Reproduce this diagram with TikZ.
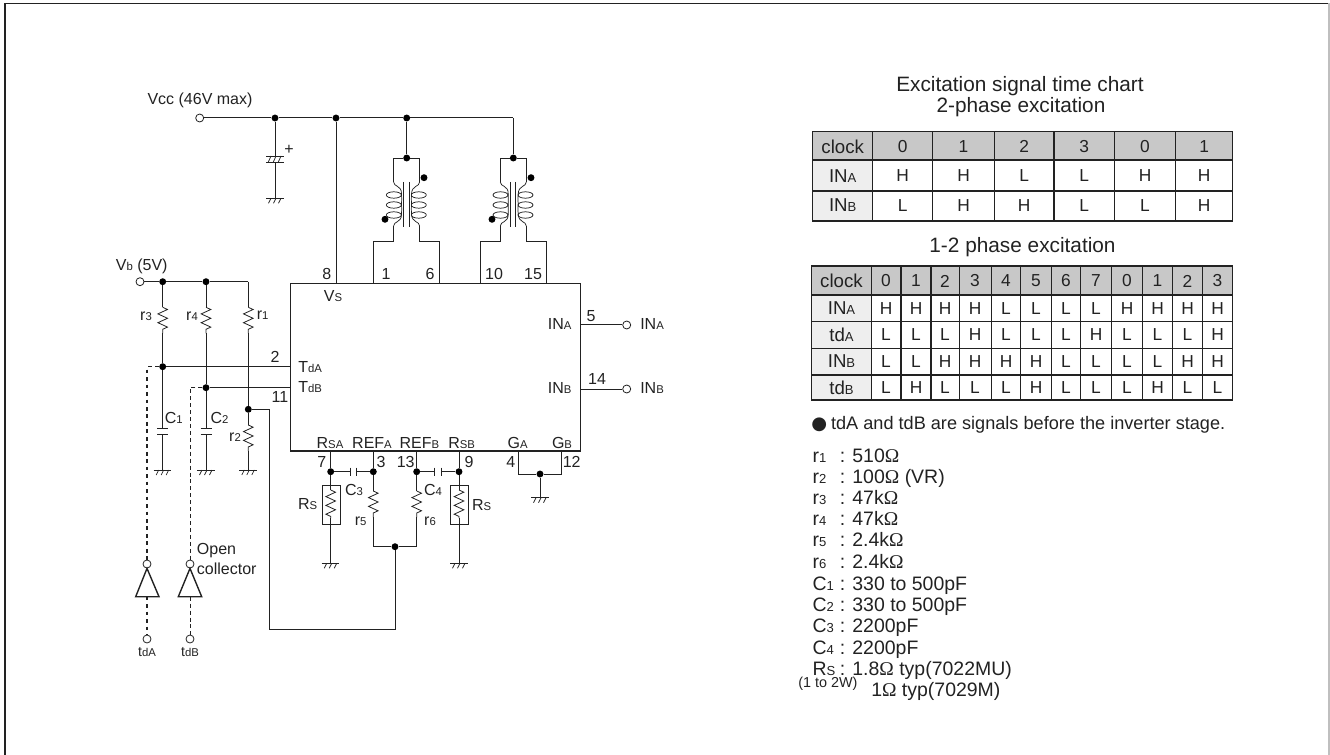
\documentclass[tikz,border=0pt]{standalone}
\usepackage{fontspec}
\setmainfont{Liberation Sans}
\newfontfamily\serifom{Liberation Serif}
\newfontfamily\symdot{DejaVu Sans}
\usetikzlibrary{decorations.pathmorphing}

\definecolor{headgray}{HTML}{C8C8C8}
\definecolor{sidegray}{HTML}{EEEEEE}
\definecolor{inkgray}{HTML}{222222}

\newcommand{\sm}[1]{{\fontsize{8.5}{9}\selectfont #1}}
\newcommand{\smb}[1]{{\fontsize{9.8}{10}\selectfont #1}}
\newcommand{\ohm}{{\serifom Ω}}

\tikzstyle{wire} = [draw=inkgray, line width=.75pt]
\tikzstyle{weak} = [draw=inkgray, line width=.55pt]
\tikzstyle{heavy} = [draw=inkgray, line width=1.05pt]
\tikzstyle{dashA} = [draw=inkgray, line width=.85pt, dash pattern=on 2.8pt off 2.8pt]
\tikzstyle{dashB} = [draw=inkgray, line width=.5pt, dash pattern=on 3pt off 2.2pt]
\tikzstyle{res} = [draw=inkgray, line width=.6pt, decorate,
    decoration={zigzag, segment length=6.6pt, amplitude=3.6pt}]
\tikzstyle{dot} = [circle, fill=black, inner sep=0pt, minimum size=5.2pt]
\tikzstyle{term} = [circle, draw=inkgray, fill=white, line width=.6pt, inner sep=0pt, minimum size=6pt]
\tikzstyle{lab} = [inner sep=0pt, text=inkgray, font=\fontsize{12}{14}\selectfont]
\tikzstyle{cell} = [inner sep=0pt, text=inkgray, font=\fontsize{13}{15}\selectfont]
\tikzstyle{hcell} = [inner sep=0pt, text=inkgray, font=\fontsize{14}{16}\selectfont]
\tikzstyle{big} = [inner sep=0pt, text=inkgray, font=\fontsize{15.6}{18}\selectfont]
\tikzstyle{val} = [inner sep=0pt, anchor=base west, text=inkgray, font=\fontsize{14.6}{17}\selectfont]

\tikzset{
  gndsym/.pic={
    \draw[weak] (-9,0) -- (8.5,0);
    \draw[weak] (-4,0) -- (-6.5,5);
    \draw[weak] (1,0) -- (-1.5,5);
    \draw[weak] (6,0) -- (3.5,5);
  },
  capv/.pic={
    \draw[wire] (-5.5,-3) -- (5.5,-3);
    \draw[wire] (-5.5,3) -- (5.5,3);
  },
  caph/.pic={
    \draw[wire] (-3.3,-4.2) -- (-3.3,4.2);
    \draw[wire] (3.3,-4.2) -- (3.3,4.2);
  },
  coilsym/.pic={
    % left and right windings, core between
    \draw[weak] (-12.7,0) .. controls (-12.7,5) and (-4.5,3) .. (-4.8,12)
       .. controls (-4.6,15) and (-4.6,19) .. (-4.8,22)
       .. controls (-4.6,25) and (-4.6,29) .. (-4.8,32)
       .. controls (-4.5,41) and (-12.7,39) .. (-12.7,44);
    \draw[weak] (13.3,0) .. controls (13.3,5) and (5.5,3) .. (5.2,12)
       .. controls (5,15) and (5,19) .. (5.2,22)
       .. controls (5,25) and (5,29) .. (5.2,32)
       .. controls (5.5,41) and (13.3,39) .. (13.3,44);
    \foreach \yy in {13,23,33} {
      \draw[weak] (-12.5,\yy) ellipse [x radius=7.5, y radius=3.2];
      \draw[weak] (12.5,\yy) ellipse [x radius=7.5, y radius=3.2];
    }
    \draw[weak] (-2.8,0) -- (-2.8,45.5);
    \draw[weak] (2.8,0) -- (2.8,45.5);
  }
}

\begin{document}
\begin{tikzpicture}[x=.75pt, y=-.75pt]
	\useasboundingbox (0,0) rectangle (1330,755);
	% frame
	\draw[draw=inkgray, line width=.9pt] (1330,3.5) -- (5,3.5) -- (5,755);
	\draw[draw=black!25, line width=.9pt] (1329,3.5) -- (1329,755);
	%
	% supply rail
	\node [term] (vcc) at (199.7,118) {};
	\node [dot] (ja) at (275,118) {};
	\node [dot] (jb) at (336,118) {};
	\node [dot] (jc) at (406.7,118) {};
	\coordinate (rcorner) at (513.3,118);
	\draw[wire] (vcc) -- (ja) -- (jb) -- (jc) -- (rcorner);
	%
	\node [lab] (lvcc) at (200,100) {Vcc (46V max)};
	%
	% electrolytic
	\coordinate (cpa) at (275,156);
	\coordinate (cpb) at (275,162.7);
	\coordinate (ga) at (275,198.3);
	\draw[wire] (ja) -- (cpa);
	\draw[wire] (cpb) -- (ga);
	\draw[weak] (266,156) -- (283.5,156);
	\draw[weak] (266,162.7) -- (283.5,162.7);
	\draw[weak] (268,162.7) -- (271,156) (273,162.7) -- (276,156) (278,162.7) -- (281,156);
	\node [lab] (lplus) at (289,150) {+};
	\pic at (ga) {gndsym};
	%
	% coil 1
	\node [dot] (jd) at (406.7,158) {};
	\coordinate (cla) at (393.3,158);
	\coordinate (clb) at (393.3,182);
	\coordinate (cra) at (419.3,158);
	\coordinate (crb) at (419.3,182);
	\coordinate (clc) at (393.3,226);
	\coordinate (cld) at (393.3,241);
	\coordinate (crc) at (419.3,226);
	\coordinate (crd) at (419.3,241);
	\coordinate (p1a) at (373.3,241);
	\coordinate (p6a) at (439.3,241);
	\coordinate (p1) at (373.3,283.3);
	\coordinate (p6) at (439.3,283.3);
	\draw[wire] (jc) -- (jd);
	\draw[weak] (clb) -- (cla) -- (jd) -- (cra) -- (crb);
	\draw[weak] (clc) -- (cld) -- (p1a) -- (p1);
	\draw[weak] (crc) -- (crd) -- (p6a) -- (p6);
	\pic at (406.3,182) {coilsym};
	\node [dot] (dotaa) at (424,177.7) {};
	\node [dot] (dotab) at (385,219.3) {};
	%
	% coil 2
	\node [dot] (je) at (513.3,158) {};
	\coordinate (dla) at (500,158);
	\coordinate (dlb) at (500,182);
	\coordinate (dra) at (526,158);
	\coordinate (drb) at (526,182);
	\coordinate (dlc) at (500,226);
	\coordinate (dld) at (500,241);
	\coordinate (drc) at (526,226);
	\coordinate (drd) at (526,241);
	\coordinate (p10a) at (480.3,241);
	\coordinate (p15a) at (546,241);
	\coordinate (p10) at (480.3,283.3);
	\coordinate (p15) at (546,283.3);
	\draw[wire] (rcorner) -- (je);
	\draw[weak] (dlb) -- (dla) -- (je) -- (dra) -- (drb);
	\draw[weak] (dlc) -- (dld) -- (p10a) -- (p10);
	\draw[weak] (drc) -- (drd) -- (p15a) -- (p15);
	\pic at (513,182) {coilsym};
	\node [dot] (dotba) at (531,177.7) {};
	\node [dot] (dotbb) at (492,219.3) {};
	%
	% IC body
	\node [draw=inkgray, line width=1.05pt, minimum width=217.5pt, minimum height=125.5pt, inner sep=0pt] (ic) at (435.5,367.2) {};
	\coordinate (p8) at (336,283.3);
	\draw[wire] (jb) -- (p8);
	%
	\node [lab] (n8) at (326.7,274.3) {8};
	\node [lab] (n1) at (386,274.3) {1};
	\node [lab] (n6) at (430,274.3) {6};
	\node [lab] (n10) at (494,274.3) {10};
	\node [lab] (n15) at (533,274.3) {15};
	\node [lab] (lvs) at (333,296) {V\sm{S}};
	\node [lab, anchor=west] (ltda) at (298,367) {T\sm{dA}};
	\node [lab, anchor=west] (ltdb) at (298,387) {T\sm{dB}};
	\node [lab] (n2) at (275,356.7) {2};
	\node [lab] (n11) at (280,396.7) {11};
	\node [lab] (lrsa) at (330,442.7) {R\sm{SA}};
	\node [lab] (lrefa) at (372,442.7) {REF\sm{A}};
	\node [lab] (lrefb) at (419.3,442.7) {REF\sm{B}};
	\node [lab] (lrsb) at (461.7,442.7) {R\sm{SB}};
	\node [lab] (lga) at (517.7,442.7) {G\sm{A}};
	\node [lab] (lgb) at (562,442.7) {G\sm{B}};
	\node [lab] (n7) at (321.7,462.3) {7};
	\node [lab] (n3) at (381,462.3) {3};
	\node [lab] (n13) at (405.7,462.3) {13};
	\node [lab] (n9) at (469,462.3) {9};
	\node [lab] (n4) at (510.7,462.3) {4};
	\node [lab] (n12) at (571.7,462.3) {12};
	%
	% inputs
	\node [term] (tina) at (626.7,325) {};
	\node [term] (tinb) at (626.7,389) {};
	\coordinate (p5) at (581,325);
	\coordinate (p14) at (581,389);
	\draw[wire] (p5) -- (tina);
	\draw[wire] (p14) -- (tinb);
	\node [lab] (n5) at (591,315.7) {5};
	\node [lab] (n14) at (597,379) {14};
	\node [lab, anchor=east] (lina) at (571.7,323.5) {IN\sm{A}};
	\node [lab, anchor=east] (linb) at (571.7,387.5) {IN\sm{B}};
	\node [lab, anchor=west] (ltina) at (640,323.5) {IN\sm{A}};
	\node [lab, anchor=west] (ltinb) at (640,387.5) {IN\sm{B}};
	%
	% Vb branch
	\node [term] (vb) at (140,281.7) {};
	\node [dot] (jf) at (162.7,281.7) {};
	\node [dot] (jg) at (206,281.7) {};
	\coordinate (vcorner) at (248.3,281.7);
	\draw[wire] (vb) -- (jf) -- (jg) -- (vcorner);
	\node [lab] (lvb) at (141.7,266.7) {V\sm{b} (5V)};
	%
	\coordinate (r3a) at (162.7,307.3);
	\coordinate (r3b) at (162.7,333.3);
	\coordinate (r4a) at (206,307.3);
	\coordinate (r4b) at (206,333.3);
	\coordinate (r1a) at (248.3,307.3);
	\coordinate (r1b) at (248.3,333.3);
	\coordinate (r2a) at (248.3,425);
	\coordinate (r2b) at (248.3,451);
	\node [dot] (jh) at (162.7,366.7) {};
	\node [dot] (ji) at (206,387.7) {};
	\node [dot] (jj) at (248.3,409.3) {};
	\coordinate (c1a) at (162.7,428.3);
	\coordinate (c1b) at (162.7,434.3);
	\coordinate (c2a) at (206,428.3);
	\coordinate (c2b) at (206,434.3);
	\coordinate (gb) at (162.7,470);
	\coordinate (gc) at (206,470);
	\coordinate (gd) at (248.3,470);
	\coordinate (p2) at (290,366.7);
	\coordinate (p11) at (290,387.7);
	%
	\draw[wire] (jf) -- (r3a);
	\draw[res] (r3a) -- (r3b);
	\draw[wire] (r3b) -- (jh) -- (c1a);
	\draw[wire] (c1b) -- (gb);
	\draw[wire] (jg) -- (r4a);
	\draw[res] (r4a) -- (r4b);
	\draw[wire] (r4b) -- (ji) -- (c2a);
	\draw[wire] (c2b) -- (gc);
	\draw[wire] (vcorner) -- (r1a);
	\draw[res] (r1a) -- (r1b);
	\draw[wire] (r1b) -- (jj) -- (r2a);
	\draw[res] (r2a) -- (r2b);
	\draw[wire] (r2b) -- (gd);
	\draw[wire] (jh) -- (p2);
	\draw[wire] (ji) -- (p11);
	\pic at (162.7,431.3) {capv};
	\pic at (206,431.3) {capv};
	\pic at (gb) {gndsym};
	\pic at (gc) {gndsym};
	\pic at (gd) {gndsym};
	%
	\node [lab] (lr3) at (146,316) {r\sm{3}};
	\node [lab] (lr4) at (192,316) {r\sm{4}};
	\node [lab] (lr1) at (262.7,315) {r\sm{1}};
	\node [lab] (lr2) at (235,437) {r\sm{2}};
	\node [lab] (lc1) at (173.7,417.7) {C\sm{1}};
	\node [lab] (lc2) at (219.5,417.7) {C\sm{2}};
	%
	% inverters
	\node [term] (ina) at (147,564) {};
	\node [term] (inb) at (190,564) {};
	\node [term] (tda) at (147,639) {};
	\node [term] (tdb) at (190,639) {};
	\coordinate (ua) at (147,366.7);
	\coordinate (ub) at (190,387.7);
	\coordinate (ta) at (147,596.7);
	\coordinate (tb) at (190,596.7);
	\draw[dashA] (jh) -- (ua) -- (ina);
	\draw[dashB] (ji) -- (ub) -- (inb);
	\draw[dashA] (ta) -- (tda);
	\draw[dashB] (tb) -- (tdb);
	\draw[heavy] (ina.south) -- (135.7,596.7) -- (159,596.7) -- cycle;
	\draw[heavy] (inb.south) -- (178.3,596.7) -- (201.7,596.7) -- cycle;
	\node [lab] (ltda2) at (147,652) {\fontsize{10.5}{11}\selectfont t\sm{dA}};
	\node [lab] (ltdb2) at (190,652) {\fontsize{10.5}{11}\selectfont t\sm{dB}};
	\node [lab, anchor=west] (lopen) at (196.7,551) {Open};
	\node [lab, anchor=west] (lcoll) at (196.7,569) {collector};
	%
	% current sense
	\node [dot] (jk) at (330.7,471.7) {};
	\node [dot] (jl) at (373.3,471.7) {};
	\node [dot] (jm) at (416.7,471.7) {};
	\node [dot] (jn) at (459,471.7) {};
	\coordinate (p7) at (330.7,451);
	\coordinate (p3) at (373.3,451);
	\coordinate (p13) at (416.7,451);
	\coordinate (p9) at (459,451);
	\coordinate (c3a) at (350,471.7);
	\coordinate (c3b) at (356.6,471.7);
	\coordinate (c4a) at (434.6,471.7);
	\coordinate (c4b) at (441.2,471.7);
	\coordinate (rsaa) at (330.7,490);
	\coordinate (rsab) at (330.7,518);
	\coordinate (rsba) at (459,490);
	\coordinate (rsbb) at (459,518);
	\coordinate (r5a) at (373.3,491);
	\coordinate (r5b) at (373.3,517.3);
	\coordinate (r6a) at (416.7,491);
	\coordinate (r6b) at (416.7,517.3);
	\coordinate (r5c) at (373.3,546.7);
	\coordinate (r6c) at (416.7,546.7);
	\coordinate (ge) at (330.7,563.3);
	\coordinate (gf) at (459,563.3);
	\node [dot] (jo) at (395,546.7) {};
	%
	\draw[wire] (p7) -- (jk);
	\draw[wire] (p3) -- (jl);
	\draw[wire] (p13) -- (jm);
	\draw[wire] (p9) -- (jn);
	\draw[wire] (jk) -- (c3a);
	\draw[wire] (c3b) -- (jl);
	\draw[wire] (jm) -- (c4a);
	\draw[wire] (c4b) -- (jn);
	\pic at (353.3,471.7) {caph};
	\pic at (437.9,471.7) {caph};
	\draw[wire] (jk) -- (rsaa);
	\draw[res] (rsaa) -- (rsab);
	\draw[wire] (rsab) -- (ge);
	\draw[wire] (jn) -- (rsba);
	\draw[res] (rsba) -- (rsbb);
	\draw[wire] (rsbb) -- (gf);
	\draw[wire] (jl) -- (r5a);
	\draw[res] (r5a) -- (r5b);
	\draw[wire] (r5b) -- (r5c) -- (jo);
	\draw[wire] (jm) -- (r6a);
	\draw[res] (r6a) -- (r6b);
	\draw[wire] (r6b) -- (r6c) -- (jo);
	\draw[wire] (322,485.7) rectangle (340.7,524.3);
	\draw[wire] (450,485.7) rectangle (468.3,524.3);
	\pic at (ge) {gndsym};
	\pic at (gf) {gndsym};
	%
	\node [lab] (lrsl) at (307.7,504.3) {R\sm{S}};
	\node [lab] (lrsr) at (481.7,505) {R\sm{S}};
	\node [lab] (lc3) at (354,490) {C\sm{3}};
	\node [lab] (lc4) at (433,490) {C\sm{4}};
	\node [lab] (lr5) at (360.7,521) {r\sm{5}};
	\node [lab] (lr6) at (430,521) {r\sm{6}};
	%
	% reference feed
	\coordinate (fa) at (269.7,409.3);
	\coordinate (fb) at (269.7,629.7);
	\coordinate (fc) at (395,629.7);
	\draw[wire] (jj) -- (fa) -- (fb) -- (fc) -- (jo);
	%
	% grounds of the bridge
	\coordinate (p4) at (518.3,451);
	\coordinate (p12) at (561,451);
	\coordinate (p4a) at (518.3,474);
	\coordinate (p12a) at (561,474);
	\node [dot] (jp) at (540,474) {};
	\coordinate (gg) at (540,497.7);
	\draw[wire] (p4) -- (p4a) -- (jp) -- (p12a) -- (p12);
	\draw[wire] (jp) -- (gg);
	\pic at (gg) {gndsym};
	%
	% first chart
	\node [big] (tita) at (1020,86) {Excitation signal time chart};
	\node [big] (titb) at (1021,107.5) {2-phase excitation};
	\fill[headgray] (812.7,131.7) rectangle (1232.7,160);
	\fill[sidegray] (812.7,160) rectangle (872.7,221);
	\draw[heavy] (812.7,131.7) rectangle (1232.7,221);
	\draw[heavy] (812.7,160) -- (1232.7,160);
	\draw[heavy] (812.7,191) -- (1232.7,191);
	\foreach \xx in {872.7,932.7,994.3,1054,1114.3,1175.7}
		\draw[heavy] (\xx,131.7) -- (\xx,221);
	%
	\node [hcell] (ah) at (842.7,146.5) {clock};
	\node [cell] (ah0) at (902.7,146.5) {0};
	\node [cell] (ah1) at (963.5,146.5) {1};
	\node [cell] (ah2) at (1024.2,146.5) {2};
	\node [cell] (ah3) at (1084.2,146.5) {3};
	\node [cell] (ah4) at (1145,146.5) {0};
	\node [cell] (ah5) at (1204.2,146.5) {1};
	\node [hcell] (aa) at (842.7,176) {IN\smb{A}};
	\node [cell] (aa0) at (902.7,176) {H};
	\node [cell] (aa1) at (963.5,176) {H};
	\node [cell] (aa2) at (1024.2,176) {L};
	\node [cell] (aa3) at (1084.2,176) {L};
	\node [cell] (aa4) at (1145,176) {H};
	\node [cell] (aa5) at (1204.2,176) {H};
	\node [hcell] (ab) at (842.7,205.5) {IN\smb{B}};
	\node [cell] (ab0) at (902.7,205.5) {L};
	\node [cell] (ab1) at (963.5,205.5) {H};
	\node [cell] (ab2) at (1024.2,205.5) {H};
	\node [cell] (ab3) at (1084.2,205.5) {L};
	\node [cell] (ab4) at (1145,205.5) {L};
	\node [cell] (ab5) at (1204.2,205.5) {H};
	%
	% second chart
	\node [big] (titc) at (1022.5,246.7) {1-2 phase excitation};
	\fill[headgray] (811.7,266) rectangle (1232.7,295);
	\fill[sidegray] (811.7,295) rectangle (871.3,400);
	\draw[heavy] (811.7,266) rectangle (1232.7,400);
	\foreach \yy in {295,321.7,348.3,375}
		\draw[heavy] (811.7,\yy) -- (1232.7,\yy);
	\foreach \xx in {871.3,901,931,959.3,991.3,1020.7,1051.7,1080.7,1111.7,1142.3,1172.7,1202.3}
		\draw[heavy] (\xx,266) -- (\xx,400);
	%
	\foreach \nm/\lbl/\xx in {0/0/886,1/1/916,2/2/945,3/3/975,4/4/1006,5/5/1036,6/6/1066,7/7/1096,8/0/1127,9/1/1157.5,10/2/1187.5,11/3/1217.5}
		\node [cell] (bh\nm) at (\xx,281) {\lbl};
	\node [hcell] (bh) at (841.5,281) {clock};
	\node [hcell] (ba) at (841.5,308.5) {IN\smb{A}};
	\node [hcell] (bb) at (841.5,335) {td\smb{A}};
	\node [hcell] (bc) at (841.5,361.5) {IN\smb{B}};
	\node [hcell] (bd) at (841.5,388) {td\smb{B}};
	\foreach \nm/\lbl/\xx in {0/H/886,1/H/916,2/H/945,3/H/975,4/L/1006,5/L/1036,6/L/1066,7/L/1096,8/H/1127,9/H/1157.5,10/H/1187.5,11/H/1217.5}
		\node [cell] (ba\nm) at (\xx,308.5) {\lbl};
	\foreach \nm/\lbl/\xx in {0/L/886,1/L/916,2/L/945,3/H/975,4/L/1006,5/L/1036,6/L/1066,7/H/1096,8/L/1127,9/L/1157.5,10/L/1187.5,11/H/1217.5}
		\node [cell] (bb\nm) at (\xx,335) {\lbl};
	\foreach \nm/\lbl/\xx in {0/L/886,1/L/916,2/H/945,3/H/975,4/H/1006,5/H/1036,6/L/1066,7/L/1096,8/L/1127,9/L/1157.5,10/H/1187.5,11/H/1217.5}
		\node [cell] (bc\nm) at (\xx,361.5) {\lbl};
	\foreach \nm/\lbl/\xx in {0/L/886,1/H/916,2/L/945,3/L/975,4/L/1006,5/H/1036,6/L/1066,7/L/1096,8/L/1127,9/H/1157.5,10/L/1187.5,11/L/1217.5}
		\node [cell] (bd\nm) at (\xx,388) {\lbl};
	%
	% note and parts list
	\node [val, font=\fontsize{13.6}{16}\selectfont] (note) at (811,429) {{\symdot ●}\kern3pt tdA and tdB are signals before the inverter stage.};
	\node [val] (va) at (812.3,462.5) {r\smb{1}};
	\node [val] (vb1) at (812.3,483.5) {r\smb{2}};
	\node [val] (vc) at (812.3,504.3) {r\smb{3}};
	\node [val] (vd) at (812.3,525.5) {r\smb{4}};
	\node [val] (ve) at (812.3,546.7) {r\smb{5}};
	\node [val] (vf) at (812.3,568) {r\smb{6}};
	\node [val] (vg) at (812.3,590) {C\smb{1}};
	\node [val] (vh) at (812.3,611) {C\smb{2}};
	\node [val] (vi) at (812.3,632.7) {C\smb{3}};
	\node [val] (vj) at (812.3,654) {C\smb{4}};
	\node [val] (vk) at (812.3,675) {R\smb{S}};
	%
	\node [val] (wa) at (839.5,462.5) {: 510\ohm};
	\node [val] (wb) at (839.5,483.5) {: 100\ohm{} (VR)};
	\node [val] (wc) at (839.5,504.3) {: 47k\ohm};
	\node [val] (wd) at (839.5,525.5) {: 47k\ohm};
	\node [val] (we) at (839.5,546.7) {: 2.4k\ohm};
	\node [val] (wf) at (839.5,568) {: 2.4k\ohm};
	\node [val] (wg) at (839.5,590) {: 330 to 500pF};
	\node [val] (wh) at (839.5,611) {: 330 to 500pF};
	\node [val] (wi) at (839.5,632.7) {: 2200pF};
	\node [val] (wj) at (839.5,654) {: 2200pF};
	\node [val] (wk) at (839.5,675) {: 1.8\ohm{} typ(7022MU)};
	\node [val] (wl) at (871,696.7) {1\ohm{} typ(7029M)};
	\node [val, font=\fontsize{10.8}{12}\selectfont] (wm) at (798,687) {(1 to 2W)};
\end{tikzpicture}
\end{document}
